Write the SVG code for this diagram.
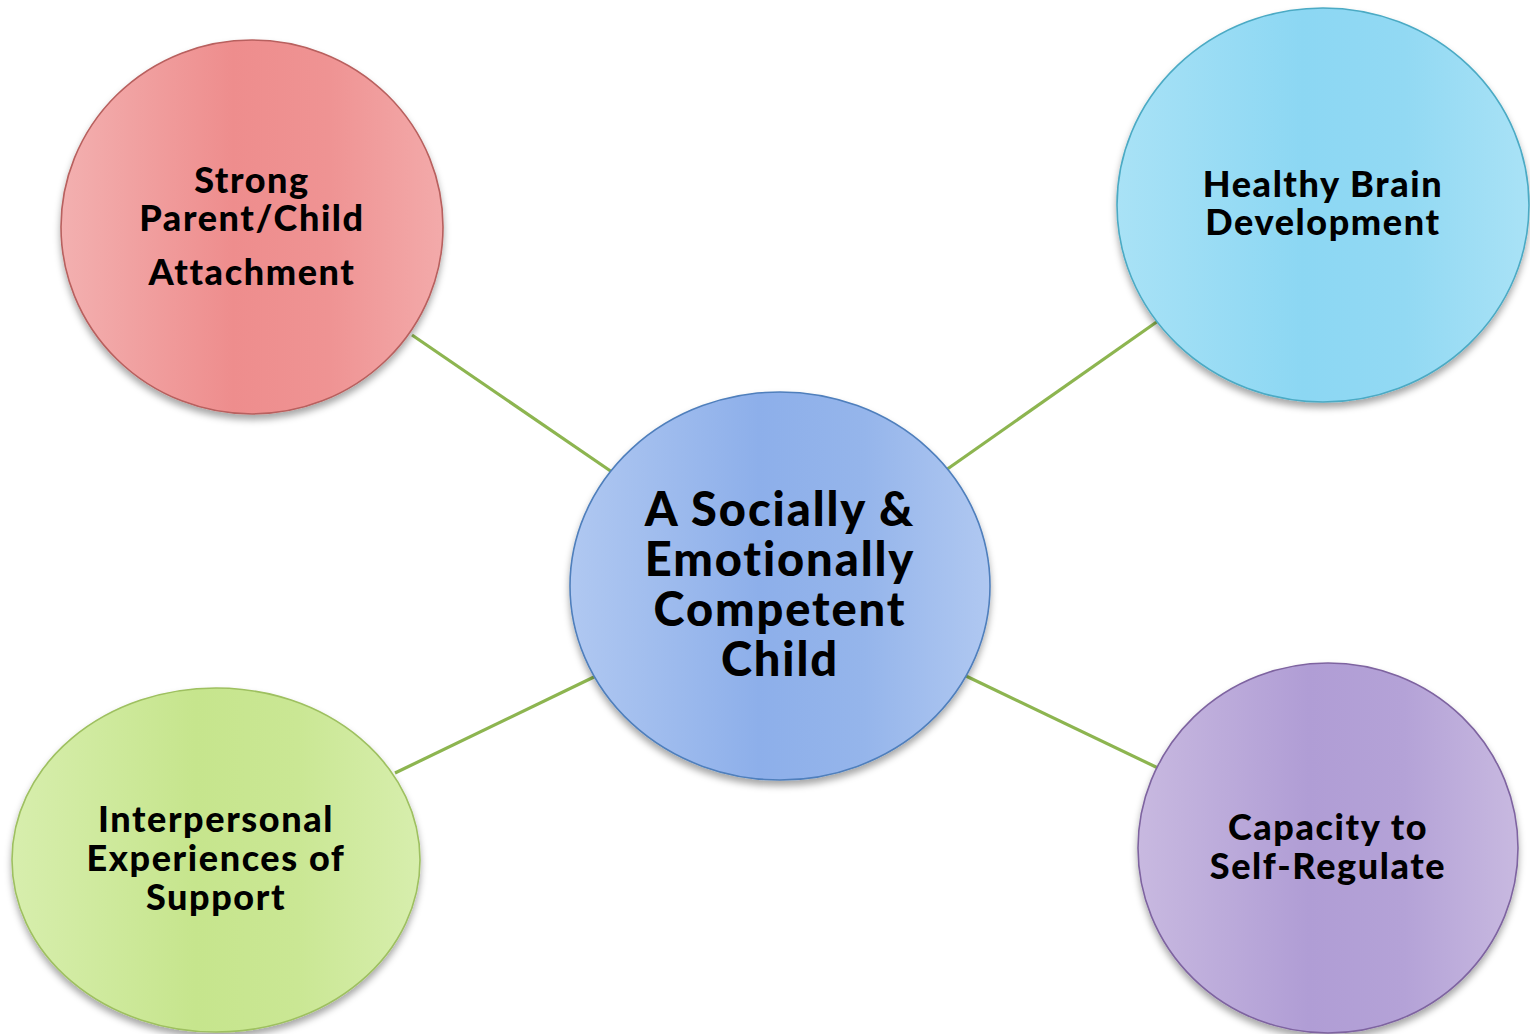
<svg xmlns="http://www.w3.org/2000/svg" width="1530" height="1034" viewBox="0 0 1530 1034">
  <defs>
    <filter id="shadow" x="-10%" y="-10%" width="120%" height="125%">
      <feDropShadow dx="0" dy="5" stdDeviation="3.5" flood-color="#000" flood-opacity="0.35"/>
    </filter>
    <linearGradient id="gRed" x1="0" y1="0" x2="1" y2="0">
      <stop offset="0" stop-color="#F3B0B0"/>
      <stop offset="0.45" stop-color="#EE8D8D"/>
      <stop offset="0.7" stop-color="#EF9393"/>
      <stop offset="1" stop-color="#F3AAAA"/>
    </linearGradient>
    <linearGradient id="gCyan" x1="0" y1="0" x2="1" y2="0">
      <stop offset="0" stop-color="#A9E2F6"/>
      <stop offset="0.45" stop-color="#8CD7F3"/>
      <stop offset="0.7" stop-color="#92D9F3"/>
      <stop offset="1" stop-color="#A9E2F6"/>
    </linearGradient>
    <linearGradient id="gBlue" x1="0" y1="0" x2="1" y2="0">
      <stop offset="0" stop-color="#B0C8F1"/>
      <stop offset="0.45" stop-color="#8DAFEA"/>
      <stop offset="0.7" stop-color="#95B5EB"/>
      <stop offset="1" stop-color="#B0C8F1"/>
    </linearGradient>
    <linearGradient id="gGreen" x1="0" y1="0" x2="1" y2="0">
      <stop offset="0" stop-color="#D7EEAD"/>
      <stop offset="0.45" stop-color="#C6E58D"/>
      <stop offset="0.7" stop-color="#CAE794"/>
      <stop offset="1" stop-color="#D7EEAD"/>
    </linearGradient>
    <linearGradient id="gPurple" x1="0" y1="0" x2="1" y2="0">
      <stop offset="0" stop-color="#C8B9E0"/>
      <stop offset="0.45" stop-color="#B09DD5"/>
      <stop offset="0.7" stop-color="#B4A2D7"/>
      <stop offset="1" stop-color="#C8B9E0"/>
    </linearGradient>
    <style>
      .node { filter: url(#shadow); stroke-width: 1.6; }
      .link { stroke: #8DB550; stroke-width: 3.2; fill: none; }
      .lbl { font-family: Lato, "Liberation Sans", sans-serif; font-weight: 900; fill: #000; text-anchor: middle; font-variant-ligatures: none; }
      .sm { font-size: 36px; letter-spacing: 1.6px; }
      .lg { font-size: 47px; letter-spacing: 1.9px; }
    </style>
  </defs>
  <rect width="1530" height="1034" fill="#FFFFFF"/>

  <!-- spokes from the centre to each outer bubble -->
  <g id="connectors">
    <line class="link" x1="412" y1="335" x2="612" y2="472"/>
    <line class="link" x1="1158" y1="321" x2="946" y2="470"/>
    <line class="link" x1="395" y1="773" x2="596" y2="676"/>
    <line class="link" x1="966" y1="676" x2="1158" y2="768"/>
  </g>

  <g id="attachment">
    <ellipse class="node" cx="252" cy="227" rx="191" ry="187" fill="url(#gRed)" stroke="#B8605E"/>
    <text class="lbl sm"><tspan x="252" y="193">Strong</tspan><tspan x="252" y="231">Parent/Child</tspan><tspan x="252" y="285">Attachment</tspan></text>
  </g>

  <g id="brain">
    <ellipse class="node" cx="1323" cy="205" rx="206" ry="197" fill="url(#gCyan)" stroke="#4BAAC4"/>
    <text class="lbl sm"><tspan x="1323" y="197">Healthy Brain</tspan><tspan x="1323" y="235">Development</tspan></text>
  </g>

  <g id="support">
    <ellipse class="node" cx="216" cy="860" rx="204" ry="172" fill="url(#gGreen)" stroke="#9EC060"/>
    <text class="lbl sm"><tspan x="216" y="832">Interpersonal</tspan><tspan x="216" y="871">Experiences of</tspan><tspan x="216" y="910">Support</tspan></text>
  </g>

  <g id="regulate">
    <ellipse class="node" cx="1328" cy="848" rx="190" ry="185" fill="url(#gPurple)" stroke="#7E64A0"/>
    <text class="lbl sm"><tspan x="1328" y="840">Capacity to</tspan><tspan x="1328" y="879">Self-Regulate</tspan></text>
  </g>

  <g id="centre">
    <ellipse class="node" cx="780" cy="586" rx="210" ry="194" fill="url(#gBlue)" stroke="#4F7FBC"/>
    <text class="lbl lg"><tspan x="780" y="526">A Socially &amp;</tspan><tspan x="780" y="576">Emotionally</tspan><tspan x="780" y="626">Competent</tspan><tspan x="780" y="676">Child</tspan></text>
  </g>
</svg>
